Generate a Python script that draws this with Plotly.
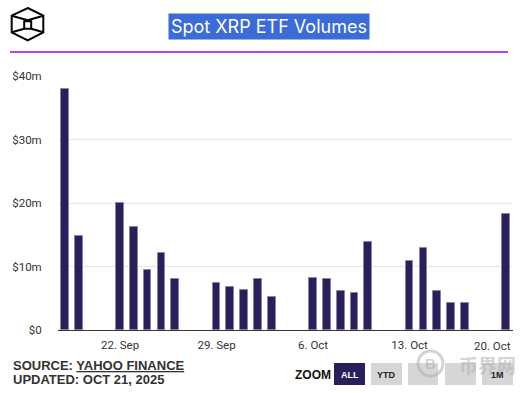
import plotly.graph_objects as go

dates = ["2025-09-18", "2025-09-19", "2025-09-22", "2025-09-23", "2025-09-24", "2025-09-25", "2025-09-26",
         "2025-09-29", "2025-09-30", "2025-10-01", "2025-10-02", "2025-10-03",
         "2025-10-06", "2025-10-07", "2025-10-08", "2025-10-09", "2025-10-10",
         "2025-10-13", "2025-10-14", "2025-10-15", "2025-10-16", "2025-10-17",
         "2025-10-20"]
volumes_m = [37.9, 14.8, 20.0, 16.2, 9.4, 12.2, 8.0,
             7.4, 6.8, 6.3, 8.0, 5.2,
             8.2, 8.0, 6.1, 5.9, 13.9,
             10.9, 12.9, 6.1, 4.2, 4.3,
             18.3]
x_tick_dates = ["2025-09-22", "2025-09-29", "2025-10-06", "2025-10-13", "2025-10-20"]
x_tick_labels = ["22. Sep", "29. Sep", "6. Oct", "13. Oct", "20. Oct"]
y_tick_vals_m = [0, 10, 20, 30, 40]
y_tick_labels = ["$0", "$10m", "$20m", "$30m", "$40m"]
zoom_buttons = ["ALL", "YTD", "", "", "1M"]

W, H = 532, 393
L, R, T, B = 58, 513, 76, 330


def px(x):
    return (x - L) / (R - L)


def py(y):
    return (B - y) / (B - T)


DAY = 86400000
fig = go.Figure(go.Bar(
    x=dates, y=[v * 1e6 for v in volumes_m],
    width=0.56 * DAY,
    marker=dict(color="#2a1f5a", line=dict(color="#8a82a8", width=1)),
    hoverinfo="skip",
))

fig.update_layout(
    width=W, height=H,
    margin=dict(l=L, r=W - R, t=T, b=H - B),
    paper_bgcolor="white", plot_bgcolor="white",
    showlegend=False,
    bargap=0,
    font=dict(family="Roboto, Liberation Sans, sans-serif", color="#333333"),
)

fig.update_xaxes(
    type="date",
    range=["2025-09-17 12:00", "2025-10-20 12:00"],
    tickvals=x_tick_dates[:-1], ticktext=x_tick_labels[:-1],
    ticks="outside", ticklen=4, tickcolor="rgba(0,0,0,0)",
    tickfont=dict(size=11.5, color="#333333"),
    showgrid=False, showline=True, linecolor="#333333", linewidth=1,
    zeroline=False, fixedrange=True,
)
fig.update_yaxes(
    range=[0, 40e6],
    tickvals=[v * 1e6 for v in y_tick_vals_m], ticktext=y_tick_labels,
    ticks="outside", ticklen=13, tickcolor="rgba(0,0,0,0)",
    tickfont=dict(size=11.5, color="#333333"),
    showgrid=True, gridcolor="#e6e6e6", gridwidth=1,
    zeroline=False, showline=False, fixedrange=True,
)

annotations = []
shapes = []

# last x tick label, justified to the plot edge
annotations.append(dict(
    x=1, y=py(346), xref="paper", yref="paper", xanchor="right", yanchor="middle",
    text=x_tick_labels[-1], showarrow=False, font=dict(size=11.5, color="#333333"),
))

# title
annotations.append(dict(
    x=px(269), y=py(27), xref="paper", yref="paper", xanchor="center", yanchor="middle",
    text="Spot XRP ETF Volumes", showarrow=False,
    font=dict(family="Inter, sans-serif", size=18, color="white"),
    bgcolor="#3a6bd6", borderpad=2,
))

# purple rule
shapes.append(dict(type="line", xref="paper", yref="paper",
                   x0=px(10), x1=px(508), y0=py(52), y1=py(52),
                   line=dict(color="#a000f5", width=1.5)))

# logo (cube inside hexagon)
hexpts = [(27.7, 8), (43.3, 15.7), (43.3, 32.3), (27.7, 40.3), (11.7, 32.3), (11.7, 15.7)]
path = "M " + " L ".join(f"{px(a)},{py(b)}" for a, b in hexpts) + " Z"
shapes.append(dict(type="path", xref="paper", yref="paper", path=path,
                   line=dict(color="black", width=2)))
inner = [(24.2, 21.3), (31.2, 21.3), (31.2, 28.7), (24.2, 28.7)]
path = "M " + " L ".join(f"{px(a)},{py(b)}" for a, b in inner) + " Z"
shapes.append(dict(type="path", xref="paper", yref="paper", path=path,
                   line=dict(color="black", width=2)))
for (a, b), (c, d) in [((11.7, 15.7), (31.2, 21.3)), ((43.3, 15.7), (24.2, 21.3)),
                       ((11.7, 32.3), (24.2, 28.7)), ((43.3, 32.3), (31.2, 28.7))]:
    shapes.append(dict(type="line", xref="paper", yref="paper",
                       x0=px(a), y0=py(b), x1=px(c), y1=py(d),
                       line=dict(color="black", width=2)))

# source / updated
annotations.append(dict(
    x=px(11), y=py(365), xref="paper", yref="paper", xanchor="left", yanchor="middle",
    text="SOURCE: <u>YAHOO FINANCE</u>", showarrow=False,
    font=dict(family="Liberation Sans, Arial, sans-serif", size=13, color="#333333", weight="bold"),
))
annotations.append(dict(
    x=px(11), y=py(379), xref="paper", yref="paper", xanchor="left", yanchor="middle",
    text="UPDATED: OCT 21, 2025", showarrow=False,
    font=dict(family="Liberation Sans, Arial, sans-serif", size=13, color="#333333", weight="bold"),
))

# watermark
shapes.append(dict(type="circle", xref="paper", yref="paper",
                   x0=px(418), x1=px(443), y0=py(351), y1=py(376),
                   line=dict(color="rgba(175,175,175,0.55)", width=3)))
annotations.append(dict(
    x=px(430.5), y=py(363.5), xref="paper", yref="paper", xanchor="center", yanchor="middle",
    text="<b>B</b>", showarrow=False,
    font=dict(family="Liberation Sans, sans-serif", size=15, color="rgba(175,175,175,0.55)"),
))
annotations.append(dict(
    x=px(487), y=py(364), xref="paper", yref="paper", xanchor="center", yanchor="middle",
    text="币界网", showarrow=False,
    font=dict(family="Noto Sans CJK SC, sans-serif", size=19, color="rgba(175,175,175,0.55)", weight="bold"),
))

# zoom selector
annotations.append(dict(
    x=px(293), y=py(375), xref="paper", yref="paper", xanchor="left", yanchor="middle",
    text="ZOOM", showarrow=False,
    font=dict(family="Liberation Sans, Arial, sans-serif", size=12, color="#111111", weight="bold"),
))
btn_x = [(334, 365), (371, 402), (408, 438), (445, 476), (482, 513)]
for i, (label, (x0, x1)) in enumerate(zip(zoom_buttons, btn_x)):
    active = i == 0
    shapes.append(dict(type="rect", xref="paper", yref="paper",
                       x0=px(x0), x1=px(x1), y0=py(363), y1=py(385),
                       fillcolor="#2a1f5a" if active else "#d6d6d6",
                       line=dict(width=0), layer="below"))
    if label:
        annotations.append(dict(
            x=px((x0 + x1) / 2), y=py(375), xref="paper", yref="paper",
            xanchor="center", yanchor="middle", text=label, showarrow=False,
            font=dict(family="Liberation Sans, Arial, sans-serif", size=9,
                      color="white" if active else "#222222", weight="bold"),
        ))

fig.update_layout(annotations=annotations, shapes=shapes)
fig.write_html("out.html", config={"displayModeBar": False},
               post_script="document.body.style.margin='0';document.body.style.overflow='hidden';")
